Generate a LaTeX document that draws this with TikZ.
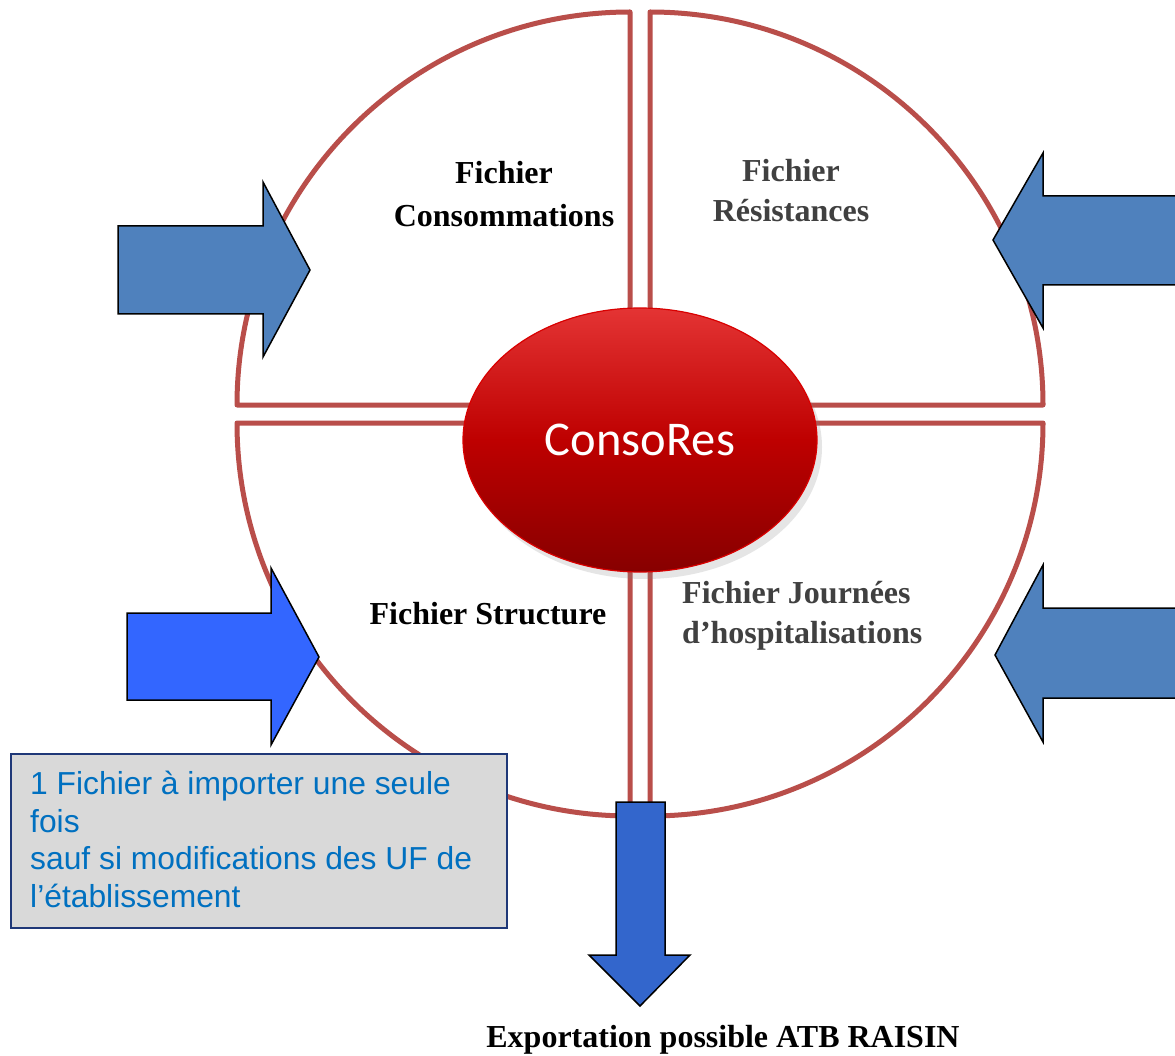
\documentclass[tikz,border=0pt]{standalone}
\usepackage{fontspec}
\setmainfont{Liberation Serif}
\newfontfamily\arialf{Liberation Sans}
\newfontfamily\calibrif{Carlito}
\usetikzlibrary{shapes.geometric,shadows}
\definecolor{ringred}{RGB}{185,78,74}
\definecolor{arrowblue}{RGB}{79,129,189}
\definecolor{brightblue}{RGB}{51,102,255}
\definecolor{downblue}{RGB}{51,102,204}
\definecolor{boxgray}{RGB}{217,217,217}
\definecolor{boxborder}{RGB}{31,56,120}
\definecolor{boxtext}{RGB}{0,112,192}
\definecolor{darktext}{RGB}{64,64,64}
\definecolor{redtop}{RGB}{228,52,52}
\definecolor{redmid}{RGB}{190,0,0}
\definecolor{redbot}{RGB}{135,0,0}
\tikzset{
  quad/.style={draw=ringred, line width=5pt, fill=white, line join=round},
  blockarrow/.style={draw=black, line width=1.5pt, line join=miter},
  lbl/.style={font=\fontsize{32}{40}\selectfont\bfseries, align=center, inner sep=0pt},
  note/.style={font=\arialf\fontsize{31.8}{37.5}\selectfont, text=boxtext, align=left, inner sep=0pt, anchor=north west},
}
\begin{document}
\begin{tikzpicture}[x=1pt,y=-1pt]
\useasboundingbox (0,0) rectangle (1175,1056);
\clip (0,0) rectangle (1175,1056);
\fill[white] (0,0) rectangle (1175,1056);
% quadrants
\draw[quad] (630,405) -- (630,12) arc[start angle=90, end angle=180, radius=393pt] -- cycle;
\draw[quad] (650,405) -- (650,12) arc[start angle=90, end angle=0, radius=393pt] -- cycle;
\draw[quad] (630,423) -- (237,423) arc[start angle=180, end angle=270, radius=393pt] -- cycle;
\draw[quad] (650,423) -- (1043,423) arc[start angle=360, end angle=270, radius=393pt] -- cycle;
% labels
\node[lbl, font=\fontsize{32}{43}\selectfont\bfseries] (cons) at (504,194) {Fichier\\Consommations};
\node[lbl, text=darktext] (res) at (791,191) {Fichier\\Résistances};
\node[lbl] (struct) at (488,614) {Fichier Structure};
\node[lbl, text=darktext, align=left, anchor=west] (journ) at (682,616) {Fichier Journées\\d’hospitalisations};
% input arrows
\draw[blockarrow, fill=arrowblue] (118,226) -- (263,226) -- (263,182) -- (310,270) -- (263,357) -- (263,314) -- (118,314) -- cycle;
\draw[blockarrow, fill=arrowblue] (1190,196) -- (1043,196) -- (1043,153) -- (993,240) -- (1043,328) -- (1043,285) -- (1190,285) -- cycle;
\draw[blockarrow, fill=arrowblue] (1190,608) -- (1043,608) -- (1043,565) -- (995,655) -- (1043,742) -- (1043,698) -- (1190,698) -- cycle;
\draw[blockarrow, fill=brightblue] (127,613) -- (271,613) -- (271,568) -- (319,657) -- (271,745) -- (271,700) -- (127,700) -- cycle;
% centre
\node[ellipse, minimum width=354pt, minimum height=264pt, draw=red!85!black, line width=1.2pt,
      top color=redtop, bottom color=redbot, middle color=redmid,
      drop shadow={opacity=0.2, shadow xshift=5pt, shadow yshift=-7pt},
      font=\calibrif\fontsize{48.5}{56}\selectfont, text=white] (core) at (640,440) {ConsoRes};
% note box
\node[draw=boxborder, line width=2pt, fill=boxgray, minimum width=496pt, minimum height=174pt,
      anchor=north west, inner sep=0pt] (box) at (10,753) {};
\node[note] (notetext) at (30,771) {1 Fichier à importer une seule\\fois\\sauf si modifications des UF de\\l’établissement};
% output arrow
\draw[blockarrow, fill=downblue] (616,802) -- (665,802) -- (665,955) -- (690,955) -- (640,1006) -- (589,955) -- (616,955) -- cycle;
\node[lbl] (export) at (723,1040) {Exportation possible ATB RAISIN};
\end{tikzpicture}
\end{document}
